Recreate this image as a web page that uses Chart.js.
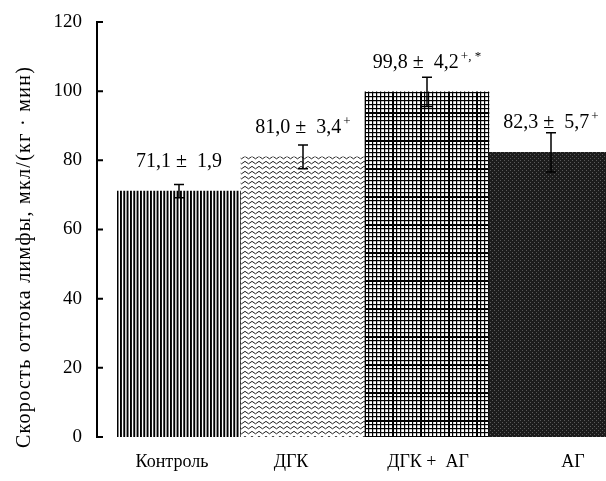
<!DOCTYPE html>
<html><head><meta charset="utf-8">
<script src="https://cdn.jsdelivr.net/npm/chart.js@4"></script>
<style>html,body{margin:0;padding:0;overflow:hidden;background:#fff}#wrap{width:614px;height:481px;position:relative}</style>
</head><body><div id="wrap"><canvas id="c"></canvas></div>
<script>
const categories = ['Контроль', 'ДГК', 'ДГК +  АГ', 'АГ'];
const means = [71.1, 81.0, 99.8, 82.3];
const errors = [1.9, 3.4, 4.2, 5.7];
const marks = ['', '+', '+, *', '+'];
const yTickValues = [0, 20, 40, 60, 80, 100, 120];
const yTitle = 'Скорость оттока лимфы, мкл/(кг · мин)';
const xLabelShift = [-7, -12, 1, 22];

const SERIF = "'Liberation Serif', 'DejaVu Serif', serif";

function mk(w, h, draw) {
  const c = document.createElement('canvas'); c.width = w; c.height = h;
  const x = c.getContext('2d'); draw(x, w, h);
  return document.getElementById('c').getContext('2d').createPattern(c, 'repeat');
}
const pStripes = mk(10, 10, (x) => {
  x.fillStyle = '#fff'; x.fillRect(0, 0, 10, 10);
  x.fillStyle = '#000';
  [0, 3.3, 6.6].forEach(p => x.fillRect(p, 0, 1.9, 10));
});
const pWave = mk(7, 5, (x) => {
  x.fillStyle = '#fff'; x.fillRect(0, 0, 7, 5);
  x.strokeStyle = '#222'; x.lineWidth = 1;
  x.beginPath(); x.moveTo(-0.5, 1); x.lineTo(3.5, 3.8); x.lineTo(7.5, 1); x.stroke();
});
const pGrid = mk(28, 28, (x) => {
  x.fillStyle = '#fff'; x.fillRect(0, 0, 28, 28);
  x.fillStyle = '#000';
  for (let i = 0; i < 28; i += 4) { x.fillRect(i, 0, 1.2, 28); x.fillRect(0, i, 28, 1.2); }
  x.fillRect(0, 0, 2, 28); x.fillRect(0, 0, 28, 2);
});
const pDark = mk(4, 4, (x) => {
  x.fillStyle = '#1c1c1c'; x.fillRect(0, 0, 4, 4);
  x.fillStyle = '#5a5a5a'; x.fillRect(0, 0, 1, 1); x.fillRect(2, 2, 1, 1);
});

const overlay = {
  id: 'overlay',
  afterDatasetsDraw(chart) {
    const ctx = chart.ctx, xs = chart.scales.x, ys = chart.scales.y, ca = chart.chartArea;
    ctx.save();
    // error bars
    ctx.strokeStyle = '#000'; ctx.lineWidth = 1.5;
    means.forEach((m, i) => {
      const cx = xs.getPixelForValue(i);
      const t = ys.getPixelForValue(m + errors[i]), b = ys.getPixelForValue(m - errors[i]);
      ctx.beginPath();
      ctx.moveTo(cx, t); ctx.lineTo(cx, b);
      ctx.moveTo(cx - 5, t); ctx.lineTo(cx + 5, t);
      ctx.moveTo(cx - 5, b); ctx.lineTo(cx + 5, b);
      ctx.stroke();
    });
    // value labels
    ctx.fillStyle = '#000'; ctx.textBaseline = 'alphabetic';
    means.forEach((m, i) => {
      const main = m.toFixed(1).replace('.', ',') + ' ±  ' + errors[i].toFixed(1).replace('.', ',');
      ctx.font = '20px ' + SERIF;
      const w1 = ctx.measureText(main).width;
      ctx.font = '13px ' + SERIF;
      const w2 = marks[i] ? ctx.measureText(marks[i]).width + 2 : 0;
      const cx = xs.getPixelForValue(i);
      const y = ys.getPixelForValue(m) - 24;
      const x0 = cx - (w1 + w2) / 2;
      ctx.textAlign = 'left';
      ctx.font = '20px ' + SERIF; ctx.fillText(main, x0, y);
      if (marks[i]) { ctx.font = '13px ' + SERIF; ctx.fillText(marks[i], x0 + w1 + 2, y - 8); }
    });
    // x category labels
    ctx.font = '18px ' + SERIF; ctx.textAlign = 'center'; ctx.textBaseline = 'middle';
    categories.forEach((c, i) => {
      ctx.fillText(c, xs.getPixelForValue(i) + xLabelShift[i], 462);
    });
    // y axis bracket
    const ax = ca.left - 20;
    ctx.lineWidth = 2; ctx.strokeStyle = '#000';
    ctx.beginPath();
    ctx.moveTo(ax, ys.getPixelForValue(120)); ctx.lineTo(ax, ys.getPixelForValue(0));
    yTickValues.forEach(v => { const y = ys.getPixelForValue(v); ctx.moveTo(ax - 1, y); ctx.lineTo(ax + 6, y); });
    ctx.stroke();
    // y title
    ctx.translate(25, 257); ctx.rotate(-Math.PI / 2);
    ctx.font = '20px ' + SERIF; ctx.textAlign = 'center'; ctx.textBaseline = 'middle';
    ctx.letterSpacing = '1.3px';
    ctx.fillText(yTitle, 0, 0);
    ctx.restore();
  }
};

new Chart(document.getElementById('c'), {
  type: 'bar',
  data: {
    labels: categories,
    datasets: [{
      data: means,
      backgroundColor: [pStripes, pWave, pGrid, pDark],
      borderWidth: 0,
      barPercentage: 1,
      categoryPercentage: 1
    }]
  },
  options: {
    responsive: true, maintainAspectRatio: false, animation: false,
    layout: { autoPadding: false, padding: { top: 22, right: 1, left: 0, bottom: 0 } },
    plugins: { legend: { display: false }, tooltip: { enabled: false } },
    scales: {
      x: {
        grid: { display: false }, border: { display: false },
        ticks: { display: false },
        afterFit(s) { s.height = 44; s.paddingLeft = 0; s.paddingRight = 0; }
      },
      y: {
        min: 0, max: 120,
        afterBuildTicks(s) { s.ticks = yTickValues.map(v => ({ value: v })); },
        grid: { display: false }, border: { display: false },
        ticks: { font: { family: SERIF, size: 19 }, color: '#000', padding: 27 },
        afterFit(s) { s.width = 117; s.paddingTop = 0; s.paddingBottom = 0; }
      }
    }
  },
  plugins: [overlay]
});
</script>
</body></html>
